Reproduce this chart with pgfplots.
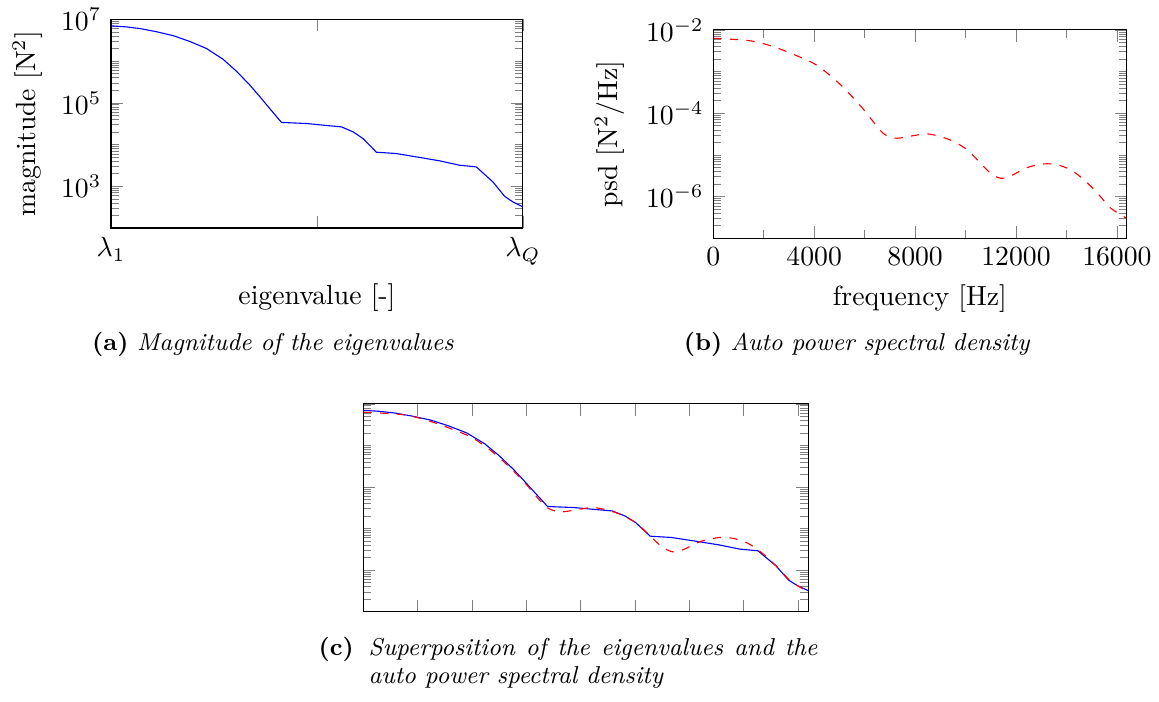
\documentclass[border=0pt]{standalone}
\usepackage{pgfplots}
\pgfplotsset{compat=1.18}
\def\minorA{2e2,3e2,4e2,5e2,6e2,7e2,8e2,9e2,2e3,3e3,4e3,5e3,6e3,7e3,8e3,9e3,1e4,2e4,3e4,4e4,5e4,6e4,7e4,8e4,9e4,2e5,3e5,4e5,5e5,6e5,7e5,8e5,9e5,1e6,2e6,3e6,4e6,5e6,6e6,7e6,8e6,9e6}
\def\minorB{2e-7,3e-7,4e-7,5e-7,6e-7,7e-7,8e-7,9e-7,2e-6,3e-6,4e-6,5e-6,6e-6,7e-6,8e-6,9e-6,1e-5,2e-5,3e-5,4e-5,5e-5,6e-5,7e-5,8e-5,9e-5,2e-4,3e-4,4e-4,5e-4,6e-4,7e-4,8e-4,9e-4,1e-3,2e-3,3e-3,4e-3,5e-3,6e-3,7e-3,8e-3,9e-3}
\begin{document}
\begin{tikzpicture}
\useasboundingbox (0,0) rectangle (418.4pt,253.4pt);
% (a) eigenvalues
\begin{axis}[at={(40.07pt,171.1pt)}, anchor=south west, scale only axis,
  width=148.7pt, height=75.3pt, ymode=log,
  xmin=0, xmax=16384, ymin=1e2, ymax=1e7,
  ytick={1e3,1e5,1e7}, minor ytick/.expanded={\minorA},
  xtick={0,8192,16384}, xticklabels={$\lambda_1$,{},$\lambda_Q$},
  scaled x ticks=false,
  xlabel={eigenvalue [-]}, ylabel={magnitude [N$^2$]}]
\addplot[blue, no marks] coordinates {
(0,7.0e6) (600,6.61e6) (1152,6.03e6) (1800,5.07e6) (2477,4.07e6) (3139,2.95e6)
(3801,2.0e6) (4463,1.10e6) (4994,5.69e5) (5523,2.66e5) (5921,1.40e5)
(6318,7.24e4) (6781,3.39e4) (7774,3.19e4) (8438,2.91e4) (9165,2.65e4)
(9629,2.01e4) (10027,1.39e4) (10556,6.55e3) (11351,6.08e3) (12145,5.06e3)
(13073,4.06e3) (13867,3.19e3) (14529,2.91e3) (15191,1.27e3) (15655,575)
(15986,421) (16384,319)
};
\end{axis}
% (b) psd
\begin{axis}[at={(257.5pt,167.4pt)}, anchor=south west, scale only axis,
  width=149.2pt, height=75.2pt, ymode=log,
  xmin=0, xmax=16384, ymin=1e-7, ymax=1e-2,
  ytick={1e-6,1e-4,1e-2}, minor ytick/.expanded={\minorB},
  xtick={0,4000,8000,12000,16000}, minor xtick={2000,6000,10000,14000},
  scaled x ticks=false, /pgf/number format/1000 sep={},
  xlabel={frequency [Hz]}, ylabel={psd [N$^2$/Hz]},
  ylabel style={yshift=1pt}]
\addplot[red, dashed, no marks, smooth] coordinates {
(0,6.31e-3) (1325,5.62e-3) (1987,4.68e-3) (2649,3.47e-3) (3311,2.40e-3)
(3974,1.58e-3) (4503,9.33e-4) (5033,4.90e-4) (5563,2.29e-4) (6026,1.10e-4)
(6490,4.79e-5) (6821,3.02e-5) (7285,2.51e-5) (7947,2.91e-5) (8477,3.19e-5)
(9007,2.75e-5) (9536,2.09e-5) (10066,1.32e-5) (10596,6.31e-6) (10993,3.63e-6)
(11391,2.75e-6) (11788,3.13e-6) (12450,4.97e-6) (13113,6.08e-6) (13642,5.75e-6)
(14172,4.37e-6) (14702,2.51e-6) (15232,1.20e-6) (15762,5.25e-7) (16384,3.02e-7)
};
\end{axis}
% (c) superposition
\begin{axis}[at={(131.2pt,32.6pt)}, anchor=south west, scale only axis,
  width=160.6pt, height=75.0pt, ymode=log,
  xmin=0, xmax=16384, ymin=1e-7, ymax=1e-2,
  ytick={1e-6,1e-4,1e-2}, minor ytick/.expanded={\minorB},
  xtick={0,2000,...,16000}, scaled x ticks=false,
  xticklabels={}, yticklabels={}]
\addplot[blue, no marks] coordinates {
(0,7.0e-3) (600,6.61e-3) (1152,6.03e-3) (1800,5.07e-3) (2477,4.07e-3) (3139,2.95e-3)
(3801,2.0e-3) (4463,1.10e-3) (4994,5.69e-4) (5523,2.66e-4) (5921,1.40e-4)
(6318,7.24e-5) (6781,3.39e-5) (7774,3.19e-5) (8438,2.91e-5) (9165,2.65e-5)
(9629,2.01e-5) (10027,1.39e-5) (10556,6.55e-6) (11351,6.08e-6) (12145,5.06e-6)
(13073,4.06e-6) (13867,3.19e-6) (14529,2.91e-6) (15191,1.27e-6) (15655,5.75e-7)
(15986,4.21e-7) (16384,3.19e-7)
};
\addplot[red, dashed, no marks, smooth] coordinates {
(0,6.31e-3) (1325,5.62e-3) (1987,4.68e-3) (2649,3.47e-3) (3311,2.40e-3)
(3974,1.58e-3) (4503,9.33e-4) (5033,4.90e-4) (5563,2.29e-4) (6026,1.10e-4)
(6490,4.79e-5) (6821,3.02e-5) (7285,2.51e-5) (7947,2.91e-5) (8477,3.19e-5)
(9007,2.75e-5) (9536,2.09e-5) (10066,1.32e-5) (10596,6.31e-6) (10993,3.63e-6)
(11391,2.75e-6) (11788,3.13e-6) (12450,4.97e-6) (13113,6.08e-6) (13642,5.75e-6)
(14172,4.37e-6) (14702,2.51e-6) (15232,1.20e-6) (15762,5.25e-7) (16384,3.02e-7)
};
\end{axis}
% captions
\node[anchor=base west, inner sep=0pt, font=\fontsize{8.8}{11}\selectfont] at (33.1pt,126.7pt)
  {{\bfseries (a)} \textit{Magnitude of the eigenvalues}};
\node[anchor=base west, inner sep=0pt, font=\fontsize{8.8}{11}\selectfont] at (246.7pt,126.7pt)
  {{\bfseries (b)} \textit{Auto power spectral density}};
\node[anchor=base west, inner sep=0pt, font=\fontsize{8.8}{11}\selectfont] at (114.8pt,16.6pt)
  {\bfseries (c)};
\node[anchor=base west, inner sep=0pt, font=\fontsize{8.8}{11}\selectfont] at (132.9pt,16.6pt)
  {\makebox[162pt][s]{\itshape Superposition of the eigenvalues and the}};
\node[anchor=base west, inner sep=0pt, font=\fontsize{8.8}{11}\selectfont] at (132.9pt,6.75pt)
  {\itshape auto power spectral density};
\end{tikzpicture}
\end{document}
